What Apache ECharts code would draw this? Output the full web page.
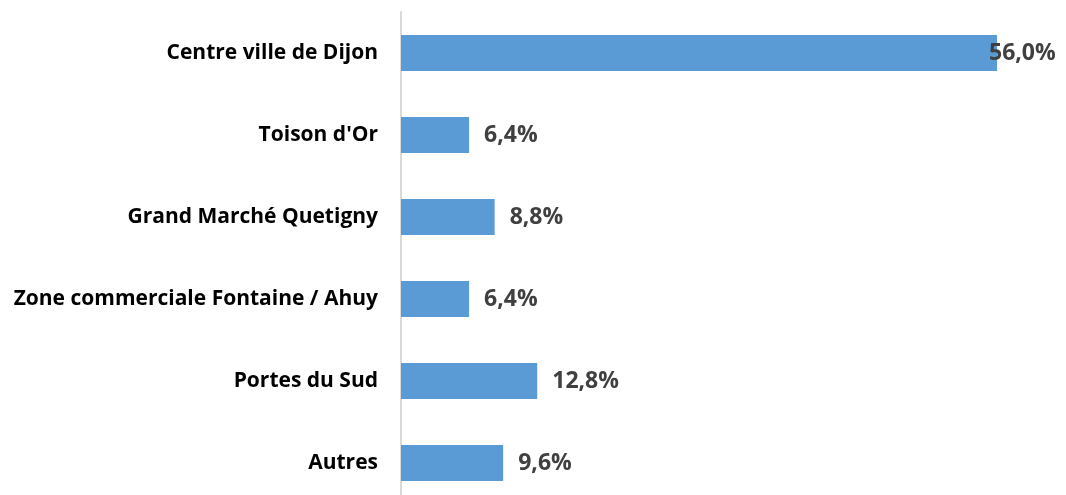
<!DOCTYPE html>
<html lang="fr">
<head>
    <meta charset="UTF-8">
    <title>Lieux d'achat</title>
    <script src="https://cdn.jsdelivr.net/npm/echarts@6.0.0/dist/echarts.min.js"></script>
    <style>
        html, body { margin: 0; padding: 0; background: #fff; }
        #chart { width: 1066px; height: 495px; }
    </style>
</head>
<body>
    <div id="chart"></div>
    <script>
        // catégories de haut en bas
        var categories = ['Centre ville de Dijon', "Toison d'Or", 'Grand Marché Quetigny',
            'Zone commerciale Fontaine / Ahuy', 'Portes du Sud', 'Autres'];
        var values = [56.0, 6.4, 8.8, 6.4, 12.8, 9.6];

        var chart = echarts.init(document.getElementById('chart'));

        var option = {
            animation: false,
            grid: { left: 401, right: 69, top: 12, bottom: -9, outerBoundsMode: 'none', containLabel: false },
            xAxis: {
                type: 'value',
                min: 0,
                max: 56,
                show: false
            },
            yAxis: {
                type: 'category',
                inverse: true,
                data: categories,
                axisLine: { lineStyle: { color: '#d9d9d9', width: 2 } },
                axisTick: { show: false },
                axisLabel: {
                    color: '#000',
                    fontFamily: 'Open Sans',
                    fontWeight: 'bold',
                    fontSize: 21,
                    margin: 23
                }
            },
            series: [{
                type: 'bar',
                barWidth: 36,
                itemStyle: { color: '#5b9bd5' },
                label: {
                    show: true,
                    position: 'right',
                    distance: 15,
                    color: '#404040',
                    fontFamily: 'Open Sans',
                    fontWeight: 'bold',
                    fontSize: 23,
                    formatter: function (p) {
                        return p.value.toFixed(1).replace('.', ',') + '%';
                    }
                },
                data: values.map(function (v, i) {
                    if (i === 0) {
                        return { value: v, label: { distance: -8 } };
                    }
                    return v;
                })
            }]
        };

        chart.setOption(option);
    </script>
</body>
</html>
